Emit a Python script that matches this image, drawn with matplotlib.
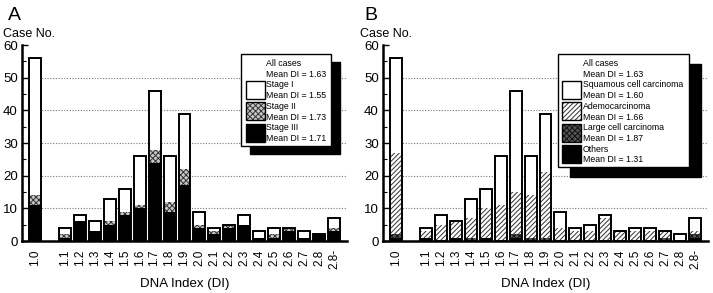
import numpy as np
import matplotlib
matplotlib.use("Agg")
import matplotlib.pyplot as plt
from matplotlib.patches import Rectangle

plt.rcParams["font.family"] = ["Liberation Sans", "DejaVu Sans"]
plt.rcParams["hatch.linewidth"] = 0.7

# DNA index classes (1.0 sits apart from the rest)
di_labels = ["1.0", "1.1", "1.2", "1.3", "1.4", "1.5", "1.6", "1.7", "1.8", "1.9",
             "2.0", "2.1", "2.2", "2.3", "2.4", "2.5", "2.6", "2.7", "2.8", "2.8-"]
di_pos = [0] + list(range(2, 21))

# panel A: stage
stage3 = [11, 1, 6, 3, 5, 8, 10, 24, 9, 17, 4, 2, 4, 5, 1, 1, 3, 1, 2, 3]
stage2 = [3, 1, 0, 0, 1, 1, 1, 4, 3, 5, 1, 1, 1, 0, 0, 1, 1, 0, 0, 1]
stage1 = [42, 2, 2, 3, 7, 7, 15, 18, 14, 17, 4, 1, 0, 3, 2, 2, 0, 2, 0, 3]

# panel B: histology
others = [1, 1, 0, 1, 0, 1, 0, 1, 0, 0, 0, 0, 0, 0, 0, 0, 0, 0, 0, 1]
large = [1, 0, 0, 0, 1, 0, 0, 1, 1, 1, 0, 0, 0, 0, 0, 0, 0, 1, 0, 1]
adeno = [25, 2, 5, 5, 6, 9, 11, 13, 13, 20, 4, 3, 3, 7, 3, 3, 3, 2, 0, 1]
squamous = [29, 1, 3, 0, 6, 6, 15, 31, 12, 18, 5, 1, 2, 1, 0, 1, 1, 0, 2, 4]

W, H = 713, 293
fig = plt.figure(figsize=(W / 100, H / 100), dpi=100)

# fill styles: (facecolor, hatch, hatch colour)
BLACK = ("black", None, "black")
WHITE = ("white", None, "black")
CHECK = ("#c8c8c8", "xxxxxx", "#333333")
DARK = ("#555555", "xxxxxx", "#111111")
DIAG = ("white", "///////", "#333333")


def px_axes(x0, y0, x1, y1):
    return fig.add_axes([x0 / W, 1 - y1 / H, (x1 - x0) / W, (y1 - y0) / H])


def draw_panel(ax, series):
    bottom = np.zeros(len(di_pos))
    for vals, (fc, hatch, ec) in series:
        ax.bar(di_pos, vals, 0.8, bottom=bottom, color=fc, hatch=hatch,
               edgecolor=ec, linewidth=0, zorder=3)
        bottom += np.array(vals)
    # outline of each whole bar
    ax.bar(di_pos, bottom, 0.8, fill=False, edgecolor="black", linewidth=1.4, zorder=4)
    for y in range(10, 60, 10):
        ax.axhline(y, color="#777777", ls=(0, (1, 1.5)), lw=0.8, zorder=1)
    ax.set_xlim(-0.85, 20.85)
    ax.set_ylim(0, 60)
    ax.set_yticks(range(0, 61, 10))
    ax.set_yticks(range(0, 61, 5), minor=True)
    ax.tick_params(axis="y", direction="in", length=4, width=1, labelsize=9.5, pad=3)
    ax.tick_params(axis="y", which="minor", direction="in", length=3, width=0.8)
    ax.set_xticks(di_pos)
    ax.set_xticklabels(di_labels, rotation=90, fontsize=8.5)
    ax.tick_params(axis="x", length=0, pad=6)
    for s in ["top", "right"]:
        ax.spines[s].set_visible(False)
    ax.spines["left"].set_linewidth(1.8)
    ax.spines["bottom"].set_linewidth(1.8)
    ax.set_xlabel("DNA Index (DI)", fontsize=9.5, labelpad=6)


axA = px_axes(22, 45, 347, 241)
draw_panel(axA, [(stage3, BLACK), (stage2, CHECK), (stage1, WHITE)])

axB = px_axes(383, 45, 708, 241)
draw_panel(axB, [(others, BLACK), (large, DARK), (adeno, DIAG), (squamous, WHITE)])

# overlay in pixel coordinates for panel letters and legends
ov = fig.add_axes([0, 0, 1, 1], zorder=10)
ov.set_xlim(0, W)
ov.set_ylim(H, 0)
ov.axis("off")

ov.text(8, 20, "A", fontsize=14, ha="left", va="baseline")
ov.text(3, 37, "Case No.", fontsize=9, ha="left", va="baseline")
ov.text(364, 20, "B", fontsize=14, ha="left", va="baseline")
ov.text(360, 37, "Case No.", fontsize=9, ha="left", va="baseline")


def legend_box(x0, y0, x1, y1, shadow, tx, swx, lines, swatches):
    ov.add_patch(Rectangle((x0 + shadow[0], y0 + shadow[1]), x1 - x0, y1 - y0,
                           facecolor="black", edgecolor="black"))
    ov.add_patch(Rectangle((x0, y0), x1 - x0, y1 - y0, facecolor="white",
                           edgecolor="black", lw=1))
    ty = y0 + 12
    for t in lines:
        ov.text(tx, ty, t, fontsize=6.3, ha="left", va="baseline")
        ty += 10.7
    for i, (fc, hatch, ec) in enumerate(swatches):
        sy = y0 + 27 + i * 21.4
        ov.add_patch(Rectangle((swx, sy), 19, 18, facecolor=fc, hatch=hatch,
                               edgecolor=ec, lw=0))
        ov.add_patch(Rectangle((swx, sy), 19, 18, fill=False, edgecolor="black", lw=1))


legend_box(241, 54, 331, 146, (9, 8), 266, 246,
           ["All cases", "Mean DI = 1.63", "Stage I", "Mean DI = 1.55",
            "Stage II", "Mean DI = 1.73", "Stage III", "Mean DI = 1.71"],
           [WHITE, CHECK, BLACK])

legend_box(558, 54, 689, 167, (12, 10), 583, 562,
           ["All cases", "Mean DI = 1.63", "Squamous cell carcinoma", "Mean DI = 1.60",
            "Ademocarcinoma", "Mean DI = 1.66", "Large cell carcinoma", "Mean DI = 1.87",
            "Others", "Mean DI = 1.31"],
           [WHITE, DIAG, DARK, BLACK])

fig.savefig("out.png", dpi=100)
